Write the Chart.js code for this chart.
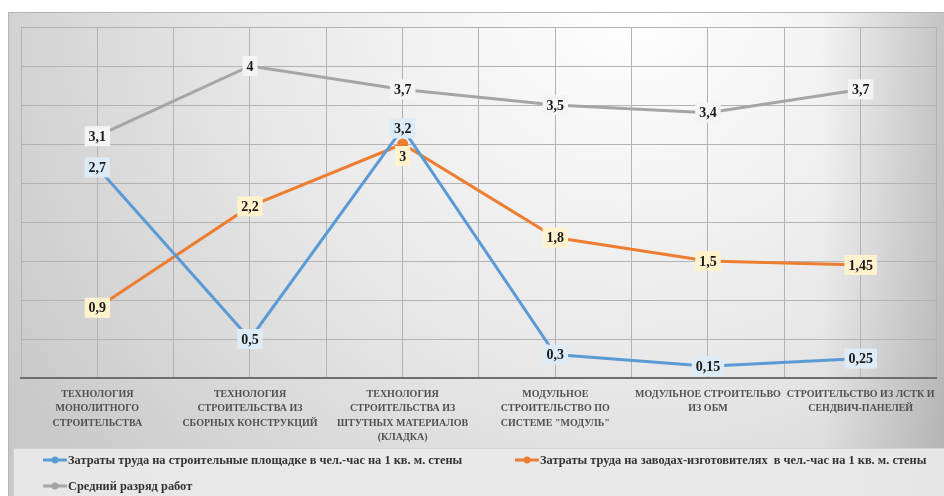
<!DOCTYPE html>
<html>
<head>
<meta charset="utf-8">
<script src="https://cdn.jsdelivr.net/npm/chart.js@4.4.1/dist/chart.umd.min.js"></script>
<style>
  html, body { margin: 0; padding: 0; background: #fff; }
  canvas { display: block; }
</style>
</head>
<body>
<canvas id="chart" width="944" height="496"></canvas>
<script>
const CATEGORIES = [
  ['ТЕХНОЛОГИЯ', 'МОНОЛИТНОГО', 'СТРОИТЕЛЬСТВА'],
  ['ТЕХНОЛОГИЯ', 'СТРОИТЕЛЬСТВА ИЗ', 'СБОРНЫХ КОНСТРУКЦИЙ'],
  ['ТЕХНОЛОГИЯ', 'СТРОИТЕЛЬСТВА ИЗ', 'ШТУТНЫХ МАТЕРИАЛОВ', '(КЛАДКА)'],
  ['МОДУЛЬНОЕ', 'СТРОИТЕЛЬСТВО ПО', 'СИСТЕМЕ "МОДУЛЬ"'],
  ['МОДУЛЬНОЕ СТРОИТЕЛЬВО', 'ИЗ ОБМ'],
  ['СТРОИТЕЛЬСТВО ИЗ ЛСТК И', 'СЕНДВИЧ-ПАНЕЛЕЙ'],
];

const SITE_LABOUR = [2.7, 0.5, 3.2, 0.3, 0.15, 0.25];
const FACTORY_LABOUR = [0.9, 2.2, 3, 1.8, 1.5, 1.45];
const WORK_GRADE = [3.1, 4, 3.7, 3.5, 3.4, 3.7];

const SERIES_NAMES = [
  'Затраты труда на строительные площадке в чел.-час на 1 кв. м. стены',
  'Затраты труда на заводах-изготовителях  в чел.-час на 1 кв. м. стены',
  'Средний разряд работ',
];

const Y_MIN = 0;
const Y_MAX = 4.5;
const Y_STEP = 0.5;

const SERIF = "'Liberation Serif', 'DejaVu Serif', serif";

function formatValue(v) {
  return String(v).replace('.', ',');
}

// Frame with the soft grey gradient behind the whole chart
const backgroundPlugin = {
  id: 'frameBackground',
  beforeDraw(chart) {
    const { ctx, width, height } = chart;
    ctx.save();
    const g = ctx.createRadialGradient(630, 0, 0, 630, 0, 740);
    g.addColorStop(0, '#ffffff');
    g.addColorStop(0.5, '#e8e8e8');
    g.addColorStop(1, '#c8c8c8');
    ctx.fillStyle = g;
    ctx.fillRect(8, 12, width - 8, height - 12);
    // darker band along the right edge
    const r = ctx.createLinearGradient(820, 0, width, 0);
    r.addColorStop(0, 'rgba(0,0,0,0)');
    r.addColorStop(1, 'rgba(0,0,0,0.17)');
    ctx.fillStyle = r;
    ctx.fillRect(820, 12, width - 820, height - 12);
    ctx.strokeStyle = '#b5b5b5';
    ctx.lineWidth = 1;
    ctx.beginPath();
    ctx.moveTo(8.5, height);
    ctx.lineTo(8.5, 12.5);
    ctx.lineTo(width, 12.5);
    ctx.stroke();
    ctx.restore();
  },
};

// Value boxes on every point
const valueLabelPlugin = {
  id: 'valueLabels',
  afterDatasetsDraw(chart) {
    const { ctx } = chart;
    ctx.save();
    ctx.font = 'bold 14px ' + SERIF;
    ctx.textAlign = 'center';
    ctx.textBaseline = 'middle';
    chart.data.datasets.forEach((ds, di) => {
      const meta = chart.getDatasetMeta(di);
      meta.data.forEach((pt, i) => {
        const text = formatValue(ds.data[i]);
        const shift = (ds.labelShift && ds.labelShift[i]) || 0;
        const w = ctx.measureText(text).width + 8;
        const h = 20;
        const x = pt.x;
        const y = pt.y + shift;
        ctx.fillStyle = ds.labelFill;
        ctx.fillRect(x - w / 2, y - h / 2, w, h);
        ctx.fillStyle = '#1a1a1a';
        ctx.fillText(text, x, y + 1);
      });
    });
    ctx.restore();
  },
};

// Legend laid out like the source: two columns, left aligned
const sideLegendPlugin = {
  id: 'sideLegend',
  afterDraw(chart) {
    const { ctx, width, height } = chart;
    const slots = [
      { x: 43, y: 460 },
      { x: 515, y: 460 },
      { x: 43, y: 486 },
    ];
    ctx.save();
    ctx.fillStyle = 'rgba(234, 234, 234, 0.9)';
    ctx.fillRect(13, 448, width - 13, height - 448);
    ctx.strokeStyle = '#d2d2d2';
    ctx.strokeRect(13.5, 448.5, width - 13, height - 448);
    ctx.font = 'bold 12.4px ' + SERIF;
    ctx.textBaseline = 'middle';
    chart.data.datasets.forEach((ds, i) => {
      const s = slots[i];
      ctx.strokeStyle = ds.borderColor;
      ctx.lineWidth = 3;
      ctx.beginPath();
      ctx.moveTo(s.x, s.y);
      ctx.lineTo(s.x + 24, s.y);
      ctx.stroke();
      ctx.fillStyle = ds.borderColor;
      ctx.beginPath();
      ctx.arc(s.x + 12, s.y, 3.5, 0, Math.PI * 2);
      ctx.fill();
      ctx.fillStyle = '#333333';
      ctx.fillText(ds.label, s.x + 25, s.y + 1);
    });
    ctx.restore();
  },
};

const datasets = [
  {
    label: SERIES_NAMES[0],
    data: SITE_LABOUR,
    borderColor: '#5b9bd5',
    labelFill: '#ddebf7',
  },
  {
    label: SERIES_NAMES[1],
    data: FACTORY_LABOUR,
    borderColor: '#ed7d31',
    labelFill: '#fff2cc',
    labelShift: [0, 0, 12, 0, 0, 0],
  },
  {
    label: SERIES_NAMES[2],
    data: WORK_GRADE,
    borderColor: '#a5a5a5',
    labelFill: '#f4f4f4',
  },
].map((ds) => ({
  ...ds,
  backgroundColor: ds.borderColor,
  pointBackgroundColor: ds.borderColor,
  pointBorderWidth: 0,
  pointRadius: 5.5,
  borderWidth: 3,
  tension: 0,
  fill: false,
}));

new Chart(document.getElementById('chart'), {
  type: 'line',
  data: {
    labels: CATEGORIES,
    datasets: datasets,
  },
  plugins: [backgroundPlugin, valueLabelPlugin, sideLegendPlugin],
  options: {
    responsive: false,
    animation: false,
    layout: {
      padding: { top: 27, left: 21, right: 0, bottom: 48 },
    },
    plugins: {
      legend: { display: false },
      tooltip: { enabled: false },
    },
    scales: {
      x: {
        type: 'category',
        offset: true,
        grid: { display: false, drawTicks: false },
        border: { display: true, color: '#6e6e6e', width: 2 },
        ticks: {
          autoSkip: false,
          maxRotation: 0,
          padding: 9,
          color: '#505050',
          font: { family: SERIF, size: 10, weight: 'bold', lineHeight: 1.45 },
        },
        afterFit(scale) {
          scale.height = 70;
        },
      },
      xGrid: {
        type: 'linear',
        position: 'bottom',
        min: 0,
        max: CATEGORIES.length * 2,
        ticks: { display: false, stepSize: 1 },
        grid: { color: '#b3b3b3', drawTicks: false },
        border: { display: false },
        afterFit(scale) {
          scale.height = 0;
        },
      },
      y: {
        min: Y_MIN,
        max: Y_MAX,
        ticks: { display: false, stepSize: Y_STEP },
        grid: { color: '#b3b3b3', drawTicks: false },
        border: { display: false },
        afterFit(scale) {
          scale.width = 0;
        },
      },
    },
  },
});
</script>
</body>
</html>
